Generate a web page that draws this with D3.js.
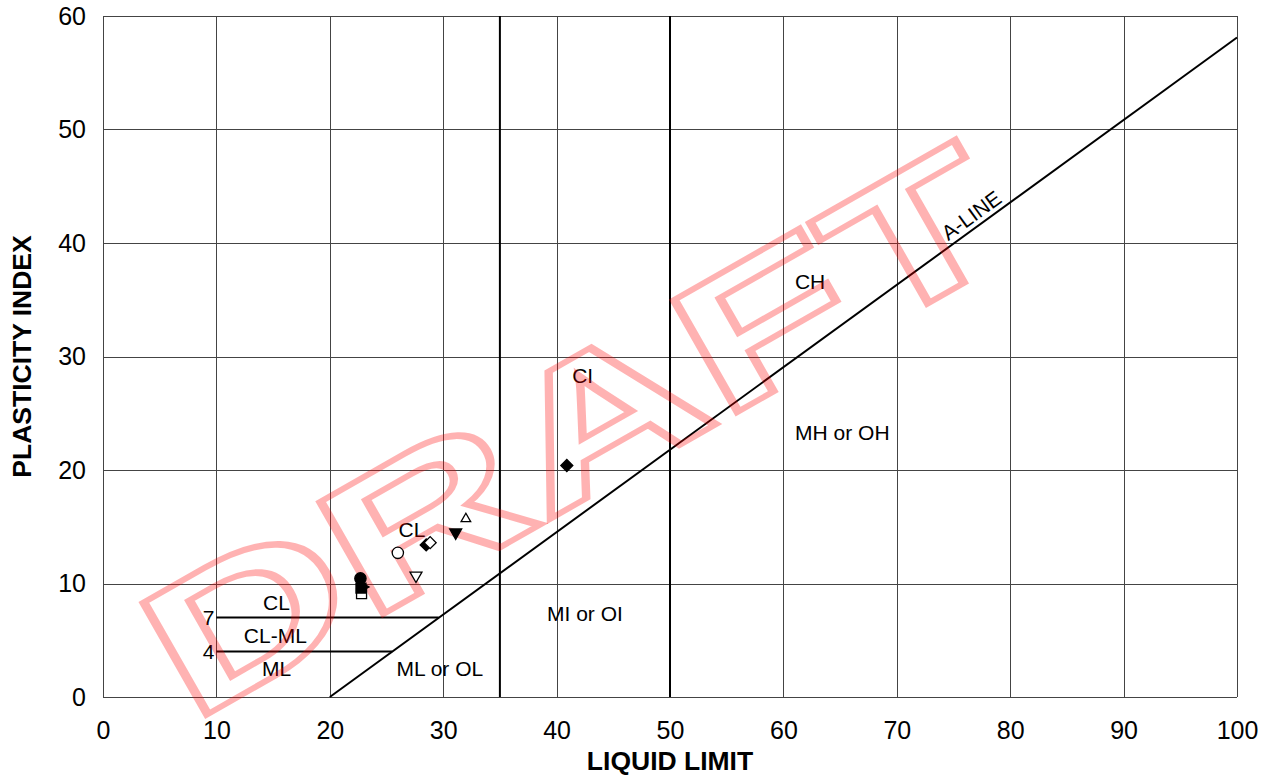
<!DOCTYPE html>
<html>
<head>
<meta charset="utf-8">
<script src="https://cdn.jsdelivr.net/npm/d3@7"></script>
<style>
  html, body { margin: 0; padding: 0; background: #fff; }
  svg { display: block; font-family: "Liberation Sans", Arial, sans-serif; }
  .tick-label { font-size: 25px; fill: #000; }
  .axis-title { font-size: 26.5px; font-weight: bold; fill: #000; }
  .zone-label { font-size: 21px; fill: #000; }
</style>
</head>
<body>
<svg id="chart" width="1273" height="775"></svg>
<script>
// Liquid limit / plasticity index values
const xTicks = [0, 10, 20, 30, 40, 50, 60, 70, 80, 90, 100];
const yTicks = [0, 10, 20, 30, 40, 50, 60];
const boundaryLL = [35, 50];

const aLine = [[20, 0], [100, 58.1]];
const ledgeLines = [
  [[10, 7], [29.6, 7]],
  [[10, 4], [25.5, 4]]
];
const ledgeLabels = [
  { text: '7', pi: 7 },
  { text: '4', pi: 4 }
];

const zoneLabels = [
  { text: 'CL', ll: 15.3, pi: 8.3 },
  { text: 'CL-ML', ll: 15.2, pi: 5.4 },
  { text: 'ML', ll: 15.3, pi: 2.5 },
  { text: 'ML or OL', ll: 29.7, pi: 2.55 },
  { text: 'MI or OI', ll: 42.5, pi: 7.4 },
  { text: 'CL', ll: 27.25, pi: 14.8 },
  { text: 'CI', ll: 42.3, pi: 28.3 },
  { text: 'CH', ll: 62.35, pi: 36.6 },
  { text: 'MH or OH', ll: 65.2, pi: 23.3 }
];

// sample points: shape + filled/open
const samples = [
  { ll: 40.9, pi: 20.4, shape: 'diamond', filled: true },
  { ll: 26.0, pi: 12.7, shape: 'circle', filled: false },
  { ll: 28.5, pi: 13.4, shape: 'diamond', filled: true },
  { ll: 28.85, pi: 13.6, shape: 'diamond', filled: false },
  { ll: 31.1, pi: 14.5, shape: 'triDown', filled: true },
  { ll: 32.0, pi: 15.7, shape: 'triUp', filled: false },
  { ll: 27.6, pi: 10.7, shape: 'triDown', filled: false },
  { ll: 22.8, pi: 9.1, shape: 'square', filled: false },
  { ll: 23.1, pi: 9.7, shape: 'triRight', filled: true },
  { ll: 22.75, pi: 9.6, shape: 'square', filled: true },
  { ll: 22.7, pi: 10.45, shape: 'circle', filled: true }
];

const width = 1273;
const height = 775;
const margin = { top: 16, right: 36, bottom: 78, left: 103 };

const svg = d3.select('#chart');

const x = d3.scaleLinear().domain([0, 100]).range([margin.left, width - margin.right]);
const y = d3.scaleLinear().domain([0, 60]).range([height - margin.bottom, margin.top]);

// grid
const grid = svg.append('g');
grid.selectAll('line.vgrid')
  .data(xTicks)
  .join('line')
  .attr('x1', (d) => Math.round(x(d)) + 0.5)
  .attr('x2', (d) => Math.round(x(d)) + 0.5)
  .attr('y1', y(0))
  .attr('y2', y(60))
  .attr('stroke', '#444')
  .attr('stroke-width', 1);
grid.selectAll('line.hgrid')
  .data(yTicks)
  .join('line')
  .attr('x1', x(0))
  .attr('x2', x(100))
  .attr('y1', (d) => Math.round(y(d)) + 0.5)
  .attr('y2', (d) => Math.round(y(d)) + 0.5)
  .attr('stroke', '#444')
  .attr('stroke-width', 1);

// LL = 35 and LL = 50 boundaries
svg.append('g')
  .selectAll('line')
  .data(boundaryLL)
  .join('line')
  .attr('x1', (d) => x(d))
  .attr('x2', (d) => x(d))
  .attr('y1', y(0))
  .attr('y2', y(60))
  .attr('stroke', '#000')
  .attr('stroke-width', 2);

const line = d3.line().x((d) => x(d[0])).y((d) => y(d[1]));

svg.append('path')
  .attr('d', line(aLine))
  .attr('fill', 'none')
  .attr('stroke', '#000')
  .attr('stroke-width', 2);

svg.append('g')
  .selectAll('path')
  .data(ledgeLines)
  .join('path')
  .attr('d', line)
  .attr('fill', 'none')
  .attr('stroke', '#000')
  .attr('stroke-width', 2);

svg.append('g')
  .selectAll('text')
  .data(ledgeLabels)
  .join('text')
  .attr('class', 'zone-label')
  .attr('x', x(10) - 2)
  .attr('y', (d) => y(d.pi))
  .attr('dy', '0.36em')
  .attr('text-anchor', 'end')
  .text((d) => d.text);

svg.append('g')
  .selectAll('text')
  .data(zoneLabels)
  .join('text')
  .attr('class', 'zone-label')
  .attr('x', (d) => x(d.ll))
  .attr('y', (d) => y(d.pi))
  .attr('dy', '0.36em')
  .attr('text-anchor', 'middle')
  .text((d) => d.text);

// A-LINE label along the line
const slope = (aLine[1][1] - aLine[0][1]) / (aLine[1][0] - aLine[0][0]);
const labelLL = 74.8;
const angle = Math.atan2(y(slope * (labelLL + 1 - 20)) - y(slope * (labelLL - 20)), x(labelLL + 1) - x(labelLL)) * 180 / Math.PI;
svg.append('text')
  .attr('class', 'zone-label')
  .attr('transform', `translate(${x(labelLL)},${y(slope * (labelLL - 20))}) rotate(${angle})`)
  .attr('dy', -5)
  .text('A-LINE');

// axes (labels only)
const xAxis = svg.append('g')
  .attr('transform', `translate(0,${y(0)})`)
  .call(d3.axisBottom(x).tickValues(xTicks).tickSize(0).tickPadding(24));
const yAxis = svg.append('g')
  .attr('transform', `translate(${x(0)},0)`)
  .call(d3.axisLeft(y).tickValues(yTicks).tickSize(0).tickPadding(17));
[xAxis, yAxis].forEach((g) => {
  g.select('.domain').remove();
  g.attr('font-size', null).attr('font-family', null);
  g.selectAll('text').attr('class', 'tick-label');
});

svg.append('text')
  .attr('class', 'axis-title')
  .attr('x', (x(0) + x(100)) / 2)
  .attr('y', 770)
  .attr('text-anchor', 'middle')
  .text('LIQUID LIMIT');

svg.append('text')
  .attr('class', 'axis-title')
  .attr('transform', `translate(31,${(y(0) + y(60)) / 2}) rotate(-90)`)
  .attr('text-anchor', 'middle')
  .text('PLASTICITY INDEX');

// DRAFT watermark
svg.append('text')
  .attr('transform', 'translate(606,487) rotate(-29.7)')
  .attr('text-anchor', 'middle')
  .attr('font-size', 187)
  .attr('font-weight', 'bold')
  .attr('textLength', 955)
  .attr('lengthAdjust', 'spacingAndGlyphs')
  .attr('fill', 'none')
  .attr('stroke', '#ff0000')
  .attr('stroke-opacity', 0.3)
  .attr('stroke-width', 6)
  .text('DRAFT');

// markers
const symbolFor = {
  diamond: { type: d3.symbolSquare, size: 72, rotate: 45 },
  square: { type: d3.symbolSquare, size: 100, rotate: 0 },
  circle: { type: d3.symbolCircle, size: 100, rotate: 0 },
  triUp: { type: d3.symbolTriangle, size: 40, rotate: 0 },
  triDown: { type: d3.symbolTriangle, size: 62, rotate: 180 },
  triRight: { type: d3.symbolTriangle, size: 22, rotate: 90 }
};

svg.append('g')
  .selectAll('path')
  .data(samples)
  .join('path')
  .attr('transform', (d) => `translate(${x(d.ll)},${y(d.pi)}) rotate(${symbolFor[d.shape].rotate})`)
  .attr('d', (d) => d3.symbol(symbolFor[d.shape].type, symbolFor[d.shape].size)())
  .attr('fill', (d) => (d.filled ? '#000' : '#fff'))
  .attr('stroke', '#000')
  .attr('stroke-width', 1.3);
</script>
</body>
</html>
